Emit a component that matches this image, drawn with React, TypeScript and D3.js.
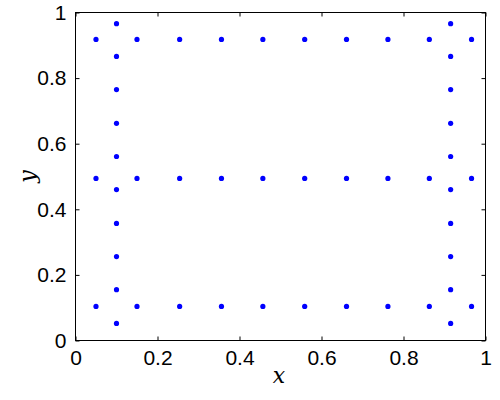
import React, { useRef, useEffect } from "react";
import * as d3 from "d3";

// horizontal rows of points
const rowX = [0.05, 0.15, 0.254, 0.356, 0.457, 0.559, 0.661, 0.762, 0.863, 0.966];
const rowY = [0.104, 0.494, 0.918];
// vertical columns of points
const colX = [0.1, 0.915];
const colY = [0.052, 0.155, 0.256, 0.357, 0.46, 0.561, 0.662, 0.765, 0.866, 0.966];

const xTicks = [0, 0.2, 0.4, 0.6, 0.8, 1];
const yTicks = [0, 0.2, 0.4, 0.6, 0.8, 1];

const App = () => {
  const svgRef = useRef<SVGSVGElement>(null);

  useEffect(() => {
    const svg = d3.select(svgRef.current);
    svg.selectAll("*").remove();

    const margin = { top: 12.5, right: 14.5, bottom: 59.5, left: 75.5 };
    const width = 500;
    const height = 400;

    const x = d3.scaleLinear().domain([0, 1]).range([margin.left, width - margin.right]);
    const y = d3.scaleLinear().domain([0, 1]).range([height - margin.bottom, margin.top]);

    const points: [number, number][] = [];
    rowY.forEach((ry) => rowX.forEach((rx) => points.push([rx, ry])));
    colX.forEach((cx) => colY.forEach((cy) => points.push([cx, cy])));

    svg.append("rect").attr("width", width).attr("height", height).attr("fill", "#fff");

    const font = "'Liberation Sans', Arial, sans-serif";

    // bottom axis (ticks inward)
    svg
      .append("g")
      .attr("transform", `translate(0,${y(0)})`)
      .call(d3.axisBottom(x).tickValues(xTicks).tickSize(-4).tickPadding(10).tickFormat(d3.format("~g")))
      .call((g) => g.select(".domain").remove())
      .call((g) => g.selectAll("text").attr("font-size", 21).attr("font-family", font).attr("fill", "#000"));
    // top axis ticks
    svg
      .append("g")
      .attr("transform", `translate(0,${y(1)})`)
      .call(d3.axisTop(x).tickValues(xTicks).tickSize(-4).tickFormat(() => ""))
      .call((g) => g.select(".domain").remove());
    // left axis
    svg
      .append("g")
      .attr("transform", `translate(${x(0)},0)`)
      .call(d3.axisLeft(y).tickValues(yTicks).tickSize(-4).tickPadding(9).tickFormat(d3.format("~g")))
      .call((g) => g.select(".domain").remove())
      .call((g) => g.selectAll("text").attr("font-size", 21).attr("font-family", font).attr("fill", "#000"));
    // right axis ticks
    svg
      .append("g")
      .attr("transform", `translate(${x(1)},0)`)
      .call(d3.axisRight(y).tickValues(yTicks).tickSize(-4).tickFormat(() => ""))
      .call((g) => g.select(".domain").remove());

    svg.selectAll(".tick line").attr("stroke", "#000");

    // box
    svg
      .append("rect")
      .attr("x", x(0))
      .attr("y", y(1))
      .attr("width", x(1) - x(0))
      .attr("height", y(0) - y(1))
      .attr("fill", "none")
      .attr("stroke", "#000")
      .attr("stroke-width", 1);

    svg
      .selectAll(".dot")
      .data(points)
      .enter()
      .append("circle")
      .attr("class", "dot")
      .attr("cx", (d) => x(d[0]))
      .attr("cy", (d) => y(d[1]))
      .attr("r", 2.6)
      .attr("fill", "#0000ff");

    // axis labels
    svg
      .append("text")
      .attr("x", 279)
      .attr("y", 383)
      .attr("text-anchor", "middle")
      .attr("font-family", "'DejaVu Serif', 'Liberation Serif', serif")
      .attr("font-style", "italic")
      .attr("font-size", 22)
      .text("x");

    svg
      .append("text")
      .attr("transform", `translate(35,${(y(0) + y(1)) / 2}) rotate(-90)`)
      .attr("text-anchor", "middle")
      .attr("font-family", "'DejaVu Serif', 'Liberation Serif', serif")
      .attr("font-style", "italic")
      .attr("font-size", 22)
      .text("y");
  }, []);

  return (
    <svg
      ref={svgRef}
      width={500}
      height={400}
      style={{ position: "absolute", left: 0, top: 0 }}
    />
  );
};

export default App;
